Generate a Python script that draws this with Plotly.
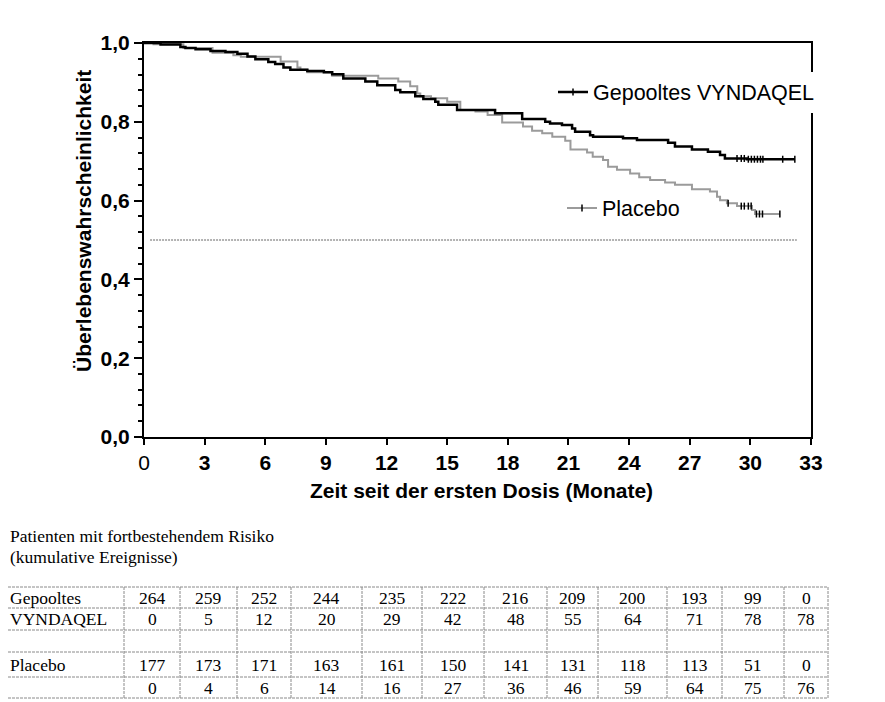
import numpy as np
import plotly.graph_objects as go

# Kaplan-Meier steps: month of each step, survival after it
vyn_t = [0, 0.82, 1.80, 2.05, 2.55, 3.29, 4.03, 4.62, 5.12, 5.51, 6.15, 6.49, 6.90, 7.24,
         8.08, 8.90, 9.31, 9.86, 10.95, 11.54, 12.43, 12.68, 13.42, 13.82, 14.41, 14.56,
         15.49, 17.37, 18.71, 19.85, 20.09, 20.68, 21.18, 21.33, 22.07, 22.22, 23.70,
         24.39, 25.93, 26.27, 27.11, 27.90, 28.50, 28.74, 29.83, 32.20]
vyn_s = [1.000, 0.996, 0.990, 0.987, 0.984, 0.980, 0.977, 0.973, 0.966, 0.959, 0.952, 0.947,
         0.938, 0.932, 0.929, 0.926, 0.921, 0.910, 0.902, 0.893, 0.881, 0.875, 0.865, 0.858,
         0.851, 0.843, 0.830, 0.822, 0.807, 0.800, 0.796, 0.792, 0.783, 0.775, 0.766, 0.762,
         0.758, 0.754, 0.747, 0.737, 0.730, 0.724, 0.716, 0.707, 0.705, 0.705]
vyn_censored = [29.34, 29.55, 29.70, 29.90, 30.05, 30.20, 30.35, 30.50, 30.62, 31.60, 32.20]

pla_t = [0, 0.47, 1.95, 3.39, 4.42, 4.79, 6.76, 7.59, 7.74, 8.08, 9.31, 11.59, 12.58, 13.17,
         13.52, 13.67, 14.20, 15.00, 15.65, 16.40, 17.00, 17.72, 18.75, 19.20, 19.70, 20.20,
         20.84, 21.10, 21.92, 22.20, 22.71, 22.96, 23.40, 24.05, 24.50, 25.04, 25.78, 26.27,
         27.11, 28.00, 28.35, 28.50, 28.84, 29.34, 30.08, 30.23, 31.46]
pla_s = [1.000, 0.997, 0.987, 0.975, 0.969, 0.965, 0.953, 0.938, 0.932, 0.926, 0.917, 0.910,
         0.902, 0.890, 0.872, 0.865, 0.860, 0.851, 0.830, 0.826, 0.817, 0.798, 0.788, 0.777,
         0.771, 0.762, 0.752, 0.730, 0.722, 0.711, 0.703, 0.686, 0.678, 0.669, 0.659, 0.652,
         0.646, 0.640, 0.629, 0.623, 0.610, 0.601, 0.593, 0.586, 0.576, 0.566, 0.566]
pla_censored = [28.90, 29.55, 29.70, 29.90, 30.04, 30.30, 30.45, 30.60, 31.46]

median_level = 0.5

# numbers at risk (cumulative events)
tab_months = [0, 3, 6, 9, 12, 15, 18, 21, 24, 27, 30, 33]
vyn_at_risk = [264, 259, 252, 244, 235, 222, 216, 209, 200, 193, 99, 0]
vyn_events = [0, 5, 12, 20, 29, 42, 48, 55, 64, 71, 78, 78]
pla_at_risk = [177, 173, 171, 163, 161, 150, 141, 131, 118, 113, 51, 0]
pla_events = [0, 4, 6, 14, 16, 27, 36, 46, 59, 64, 75, 76]
row_labels = ["Gepooltes", "VYNDAQEL", "", "Placebo", ""]

# the page body has an 8px margin, so the figure is drawn 8px in from the corner
OFF = 8
W, H = 885 - OFF, 702 - OFF
GRAY = "#9b9b9b"
SANS = "Liberation Sans"
SERIF = "Liberation Serif"


def fx(px):
    return (px - OFF) / W


def fy(py):
    return 1 - (py - OFF) / H


def step_value(t, s, x):
    idx = np.searchsorted(np.asarray(t), np.asarray(x), side="right") - 1
    return np.asarray(s)[idx]


censor_marker = dict(symbol="line-ns-open", size=5, color="black",
                     line=dict(color="black", width=1.5))

fig = go.Figure()
fig.add_trace(go.Scatter(x=pla_t, y=pla_s, mode="lines", showlegend=False,
                         line=dict(color=GRAY, width=2, shape="hv")))
fig.add_trace(go.Scatter(x=pla_censored, y=step_value(pla_t, pla_s, pla_censored),
                         mode="markers", marker=censor_marker, showlegend=False))
fig.add_trace(go.Scatter(x=vyn_t, y=vyn_s, mode="lines", showlegend=False,
                         line=dict(color="black", width=2.5, shape="hv")))
fig.add_trace(go.Scatter(x=vyn_censored, y=step_value(vyn_t, vyn_s, vyn_censored),
                         mode="markers", marker=censor_marker, showlegend=False))

# legend entries, one per legend box
fig.add_trace(go.Scatter(x=[None], y=[None], mode="lines+markers", name="Gepooltes VYNDAQEL",
                         line=dict(color="black", width=2.5), marker=censor_marker,
                         legend="legend"))
fig.add_trace(go.Scatter(x=[None], y=[None], mode="lines+markers", name="Placebo",
                         line=dict(color=GRAY, width=2), marker=censor_marker,
                         legend="legend2"))

fig.add_shape(type="line", xref="x", yref="y", x0=0.3, x1=32.3,
              y0=median_level, y1=median_level,
              line=dict(color="#666666", width=1, dash="2px,1px"))

# risk table grid
col_edges = [124, 180, 237, 291, 362, 422, 484, 547, 598, 667, 722, 784, 828]
row_edges = [587, 608, 630, 652, 677, 698]
grid_line = dict(color="#8a8a8a", width=1, dash="3px,1px")
for ry in row_edges:
    fig.add_shape(type="line", xref="paper", yref="paper", x0=fx(8), x1=fx(828),
                  y0=fy(ry), y1=fy(ry), line=grid_line)
for cx in col_edges:
    fig.add_shape(type="line", xref="paper", yref="paper", x0=fx(cx), x1=fx(cx),
                  y0=fy(row_edges[0]), y1=fy(row_edges[-1]), line=grid_line)

table_font = dict(family=SERIF, size=17.5, color="black")
rows = [vyn_at_risk, vyn_events, None, pla_at_risk, pla_events]
for r, (label, vals) in enumerate(zip(row_labels, rows)):
    yc = fy((row_edges[r] + row_edges[r + 1]) / 2)
    if label:
        fig.add_annotation(x=fx(8), y=yc, xref="paper", yref="paper", text=label,
                           showarrow=False, xanchor="left", yanchor="middle", font=table_font)
    if vals is None:
        continue
    for i, v in enumerate(vals):
        xc = fx((col_edges[i] + col_edges[i + 1]) / 2)
        fig.add_annotation(x=xc, y=yc, xref="paper", yref="paper", text=str(v),
                           showarrow=False, xanchor="center", yanchor="middle", font=table_font)

fig.add_annotation(x=fx(8), y=fy(536), xref="paper", yref="paper",
                   text="Patienten mit fortbestehendem Risiko", showarrow=False,
                   xanchor="left", yanchor="middle", font=table_font)
fig.add_annotation(x=fx(8), y=fy(557), xref="paper", yref="paper",
                   text="(kumulative Ereignisse)", showarrow=False,
                   xanchor="left", yanchor="middle", font=table_font)

title_font = dict(family=SANS, size=21, color="black", weight="bold")
fig.add_annotation(x=fx(84), y=fy(221), xref="paper", yref="paper",
                   text="Überlebenswahrscheinlichkeit", textangle=-90, showarrow=False,
                   xanchor="center", yanchor="middle", font=title_font)
fig.add_annotation(x=fx(481), y=fy(490), xref="paper", yref="paper",
                   text="Zeit seit der ersten Dosis (Monate)", showarrow=False,
                   xanchor="center", yanchor="middle", font=title_font)

x_ticktext = [str(m) if m == 0 else "<b>%d</b>" % m for m in tab_months]

fig.update_layout(
    template="none",
    width=W, height=H,
    margin=dict(l=0, r=0, t=0, b=0, pad=0, autoexpand=False),
    paper_bgcolor="white", plot_bgcolor="white",
    separators=",.",
    font=dict(family=SANS, color="black"),
    xaxis=dict(domain=[fx(144), fx(811)], range=[0, 33], tickvals=tab_months,
               ticktext=x_ticktext, ticks="outside", ticklen=6, tickwidth=2,
               tickcolor="black", showline=True, linewidth=2, linecolor="black",
               mirror=True, showgrid=False, zeroline=False, automargin=False,
               tickfont=dict(family=SANS, size=21, color="black")),
    yaxis=dict(domain=[fy(437), fy(43)], range=[0, 1],
               tickvals=[0, 0.2, 0.4, 0.6, 0.8, 1.0], tickformat=".1f",
               ticks="outside", ticklen=8, tickwidth=2, tickcolor="black",
               minor=dict(dtick=0.04, ticks="outside", ticklen=4, tickwidth=1.5,
                          tickcolor="black"),
               showline=True, linewidth=2, linecolor="black", mirror=True,
               showgrid=False, zeroline=False, automargin=False,
               tickfont=dict(family=SANS, size=21, color="black", weight="bold")),
    legend=dict(x=fx(553), y=fy(92), xanchor="left", yanchor="middle",
                bgcolor="white", borderwidth=0,
                font=dict(family=SANS, size=21.5, color="black")),
    legend2=dict(x=fx(562), y=fy(208), xanchor="left", yanchor="middle",
                 bgcolor="white", borderwidth=0,
                 font=dict(family=SANS, size=21.5, color="black")),
)

fig.write_html("out.html")
